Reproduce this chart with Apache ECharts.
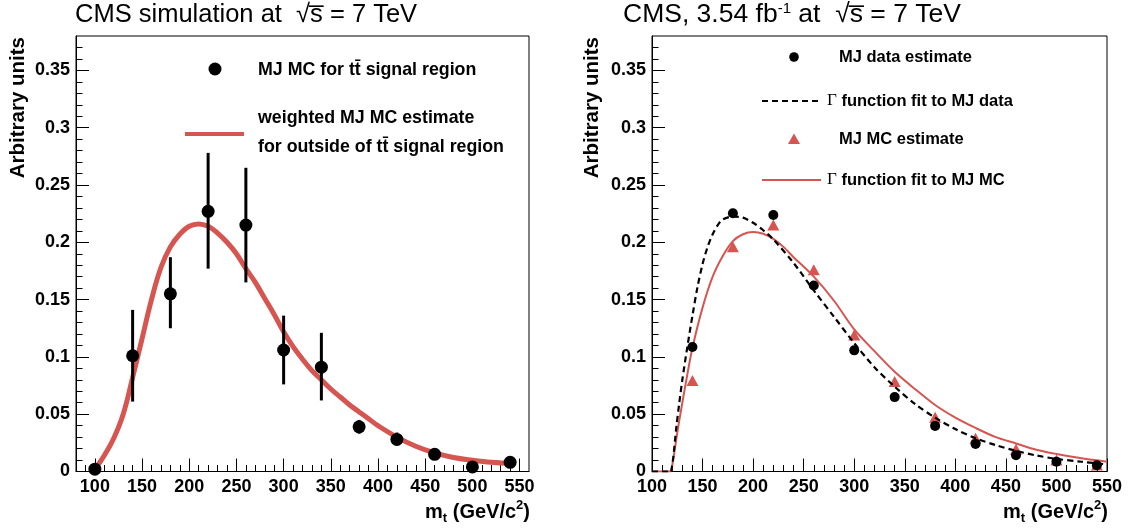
<!DOCTYPE html>
<html><head><meta charset="utf-8">
<script src="https://cdn.jsdelivr.net/npm/echarts@6/dist/echarts.min.js"></script>
<style>html,body{margin:0;padding:0;background:#fff}#c{width:1132px;height:529px}</style>
</head><body><div id="c"></div>
<script>
// ---------- data ----------
const binCenters = [100,140,180,220,260,300,340,380,420,460,500,540];
const leftMC     = [0.002,0.101,0.155,0.227,0.215,0.106,0.091,0.039,0.028,0.015,0.004,0.008];
const leftErrLo  = [0.001,0.061,0.125,0.177,0.165,0.076,0.062,0.033,0.023,0.012,0.002,0.006];
const leftErrHi  = [0.003,0.141,0.187,0.278,0.265,0.136,0.121,0.045,0.034,0.018,0.006,0.010];

const leftCurveX = [100,110,120,130,140,150,160,170,180,190,200,210,220,230,240,250,260,270,280,290,300,310,320,330,340,350,360,370,380,390,400,420,440,460,480,500,520,545];
const leftCurveY = [0.002,0.014,0.029,0.050,0.082,0.116,0.150,0.178,0.196,0.207,0.214,0.216,0.214,0.208,0.200,0.190,0.177,0.165,0.151,0.137,0.122,0.109,0.098,0.088,0.080,0.072,0.065,0.058,0.052,0.046,0.040,0.030,0.022,0.0162,0.0122,0.0098,0.0080,0.0068];

const rightPointsX = [140,180,220,260,300,340,380,420,460,500,540];
const rightData    = [0.1087,0.2253,0.2238,0.1623,0.1057,0.0649,0.0398,0.0241,0.0142,0.0086,0.0054];
const rightMC      = [0.0794,0.196,0.215,0.176,0.1192,0.0786,0.0474,0.029,0.0194,0.010,0.0057];

const flatX = [100,119];
const flatY = [0,0];
const dataFitX = [119,121,124,127,130,135,140,145,150,155,160,165,170,180,190,200,210,220,240,260,280,300,320,340,360,380,400,420,440,460,480,500,525,550];
const dataFitY = [0,0.012,0.038,0.060,0.080,0.109,0.136,0.161,0.181,0.196,0.207,0.215,0.220,0.2225,0.2215,0.217,0.2105,0.2025,0.182,0.158,0.135,0.112,0.091,0.074,0.059,0.047,0.037,0.029,0.023,0.018,0.014,0.011,0.0085,0.0062];
const mcFitX = [119,122,125,130,135,140,150,160,170,180,190,200,210,220,230,240,260,280,300,320,340,360,380,400,420,440,460,480,500,525,550];
const mcFitY = [0,0.016,0.034,0.060,0.085,0.108,0.143,0.170,0.188,0.201,0.207,0.209,0.2075,0.203,0.196,0.187,0.170,0.149,0.124,0.105,0.087,0.072,0.058,0.047,0.038,0.030,0.0245,0.019,0.0153,0.0115,0.0086];

const xMajor = [100,150,200,250,300,350,400,450,500,550];
const xMinorLeft = [90,100,110,120,130,140,150,160,170,180,190,200,210,220,230,240,250,260,270,280,290,300,310,320,330,340,350,360,370,380,390,400,410,420,430,440,450,460,470,480,490,500,510,520,530,540,550];
const xMinorRight = [110,120,130,140,150,160,170,180,190,200,210,220,230,240,250,260,270,280,290,300,310,320,330,340,350,360,370,380,390,400,410,420,430,440,450,460,470,480,490,500,510,520,530,540];
const yMajor = [0,0.05,0.1,0.15,0.2,0.25,0.3,0.35];
const yMinor = [0.01,0.02,0.03,0.04,0.06,0.07,0.08,0.09,0.11,0.12,0.13,0.14,0.16,0.17,0.18,0.19,0.21,0.22,0.23,0.24,0.26,0.27,0.28,0.29,0.31,0.32,0.33,0.34,0.36,0.37];

// ---------- styles ----------
const FF = '"Liberation Sans", Arial, Helvetica, sans-serif';
const RED = '#d65550';
const zip = (a,b) => a.map((v,i)=>[v,b[i]]);

function xAx(grid, min, max, ticks, len, labels) {
  return {
    type:'value', gridIndex:grid, min:min, max:max, position:'bottom', offset:0,
    axisLine:{show:labels, lineStyle:{color:'#000', width:1}},
    axisTick:{show:true, inside:true, length:len, customValues:ticks, lineStyle:{color:'#000', width:1}},
    axisLabel:{show:labels, customValues:ticks, margin:7, color:'#000', fontFamily:FF, fontWeight:'bold', fontSize:18},
    splitLine:{show:false}
  };
}
function yAx(grid, ticks, len, labels) {
  return {
    type:'value', gridIndex:grid, min:0, max:0.38, position:'left', offset:0,
    axisLine:{show:labels, lineStyle:{color:'#000', width:1}},
    axisTick:{show:true, inside:true, length:len, customValues:ticks, lineStyle:{color:'#000', width:1}},
    axisLabel:{show:labels, customValues:ticks, margin:6, color:'#000', fontFamily:FF, fontWeight:'bold', fontSize:18},
    splitLine:{show:false}
  };
}

function errRender(params, api) {
  const p1 = api.coord([api.value(0), api.value(1)]);
  const p2 = api.coord([api.value(0), api.value(2)]);
  return {type:'line', shape:{x1:p1[0], y1:p1[1], x2:p2[0], y2:p2[1]}, style:{stroke:'#000', lineWidth:3}};
}

const txtB = (x, y, text, size) => ({type:'text', x:x, y:y,
  style:{text:text, fontFamily:FF, fontWeight:'bold', fontSize:size, fill:'#000', verticalAlign:'middle'}});
const yTitle = (x) => ({type:'text', x:x, y:37, rotation:Math.PI/2,
  style:{text:'Arbitrary units', fontFamily:FF, fontWeight:'bold', fontSize:20.5, fill:'#000', verticalAlign:'middle', align:'right'}});
const xTitle = (x) => ({type:'text', x:x, y:512, style:{text:'{m|m}{b|t}{m| (GeV/c}{p|2}{m|)}', align:'right', verticalAlign:'middle',
  rich:{m:{fontFamily:FF, fontWeight:'bold', fontSize:20, fill:'#000', lineHeight:26},
        b:{fontFamily:FF, fontWeight:'bold', fontSize:13, fill:'#000', lineHeight:12, verticalAlign:'bottom'},
        p:{fontFamily:FF, fontWeight:'bold', fontSize:13, fill:'#000', lineHeight:12, verticalAlign:'top'}}}});
const gammaText = (y, t) => ({type:'text', x:827, y:y, style:{text:'{g|\u0393}{t| ' + t + '}', verticalAlign:'middle',
  rich:{g:{fontFamily:'"Liberation Serif", "DejaVu Serif", serif', fontSize:17, fill:'#000'}, t:{fontFamily:FF, fontWeight:'bold', fontSize:16.5, fill:'#000'}}}});

const option = {
  animation:false,
  backgroundColor:'#fff',
  grid:[
    {left:76, top:36, width:453, height:435.5, show:true, borderColor:'#000', borderWidth:1, backgroundColor:'transparent'},
    {left:652, top:36, width:455, height:435.5, show:true, borderColor:'#000', borderWidth:1, backgroundColor:'transparent'}
  ],
  xAxis:[
    xAx(0, 80, 560, xMajor, 13, true),
    xAx(0, 80, 560, xMinorLeft, 6.5, false),
    xAx(1, 100, 550, xMajor, 13, true),
    xAx(1, 100, 550, xMinorRight, 6.5, false)
  ],
  yAxis:[
    yAx(0, yMajor, 13, true),
    yAx(0, yMinor, 6.5, false),
    yAx(1, yMajor, 13, true),
    yAx(1, yMinor, 6.5, false)
  ],
  series:[
    {type:'line', xAxisIndex:0, yAxisIndex:0, data:zip(leftCurveX, leftCurveY), smooth:0.4, showSymbol:false,
     lineStyle:{color:RED, width:5}, z:2},
    {type:'custom', xAxisIndex:0, yAxisIndex:0, renderItem:errRender, encode:{x:0, y:[1,2]},
     data:binCenters.map((x,i)=>[x, leftErrLo[i], leftErrHi[i]]), z:3},
    {type:'scatter', xAxisIndex:0, yAxisIndex:0, data:zip(binCenters, leftMC), symbol:'circle', symbolSize:13,
     itemStyle:{color:'#000', opacity:1}, z:4},

    {type:'line', xAxisIndex:2, yAxisIndex:2, data:zip(flatX, flatY), showSymbol:false, lineStyle:{color:RED, width:2}, z:2},
    {type:'line', xAxisIndex:2, yAxisIndex:2, data:zip(mcFitX, mcFitY), smooth:0.3, showSymbol:false,
     lineStyle:{color:RED, width:2}, z:2},
    {type:'scatter', xAxisIndex:2, yAxisIndex:2, data:zip(rightPointsX, rightMC), symbol:'triangle', symbolSize:[12,11],
     itemStyle:{color:RED, opacity:1}, z:3},
    {type:'scatter', xAxisIndex:2, yAxisIndex:2, data:zip(rightPointsX, rightData), symbol:'circle', symbolSize:10,
     itemStyle:{color:'#000', opacity:1}, z:4},
    {type:'line', xAxisIndex:2, yAxisIndex:2, data:zip(flatX, flatY), showSymbol:false,
     lineStyle:{color:'#000', width:2.2, type:[6,4]}, z:5},
    {type:'line', xAxisIndex:2, yAxisIndex:2, data:zip(dataFitX, dataFitY), smooth:0.3, showSymbol:false,
     lineStyle:{color:'#000', width:2.2, type:[6,4]}, z:5}
  ],
  graphic:[
    {type:'text', x:75, y:15, style:{text:'CMS simulation at  \u221As\u0305 = 7 TeV', fontFamily:FF, fontSize:25.5, fill:'#000', verticalAlign:'middle'}},
    {type:'text', x:623, y:15, style:{text:'{n|CMS, 3.54 fb}{s|-1}{n| at  \u221As\u0305 = 7 TeV}', verticalAlign:'middle',
      rich:{n:{fontFamily:FF, fontSize:26.5, fill:'#000', lineHeight:28}, s:{fontFamily:FF, fontSize:15, fill:'#000', lineHeight:15, verticalAlign:'top'}}}},
    yTitle(18), yTitle(592),
    xTitle(530), xTitle(1108),
    // left legend
    {type:'circle', shape:{cx:215, cy:69, r:6.5}, style:{fill:'#000'}},
    txtB(258, 70, 'MJ MC for t\u0074\u0304 signal region', 17.8),
    {type:'line', shape:{x1:185, y1:134, x2:244, y2:134}, style:{stroke:RED, lineWidth:4}},
    txtB(258, 118, 'weighted MJ MC estimate', 17.8),
    txtB(258, 147, 'for outside of t\u0074\u0304 signal region', 17.8),
    // right legend
    {type:'circle', shape:{cx:794, cy:57, r:4.8}, style:{fill:'#000'}},
    txtB(839, 57, 'MJ data estimate', 16.5),
    {type:'line', shape:{x1:762, y1:101, x2:821, y2:101}, style:{stroke:'#000', lineWidth:2.2, lineDash:[6,4]}},
    gammaText(101, 'function fit to MJ data'),
    {type:'polygon', shape:{points:[[794,133.5],[800,144],[788,144]]}, style:{fill:RED}},
    txtB(839, 139, 'MJ MC estimate', 16.5),
    {type:'line', shape:{x1:762, y1:180, x2:821, y2:180}, style:{stroke:RED, lineWidth:2}},
    gammaText(180, 'function fit to MJ MC')
  ]
};
const chart = echarts.init(document.getElementById('c'));
chart.setOption(option);
</script></body></html>
